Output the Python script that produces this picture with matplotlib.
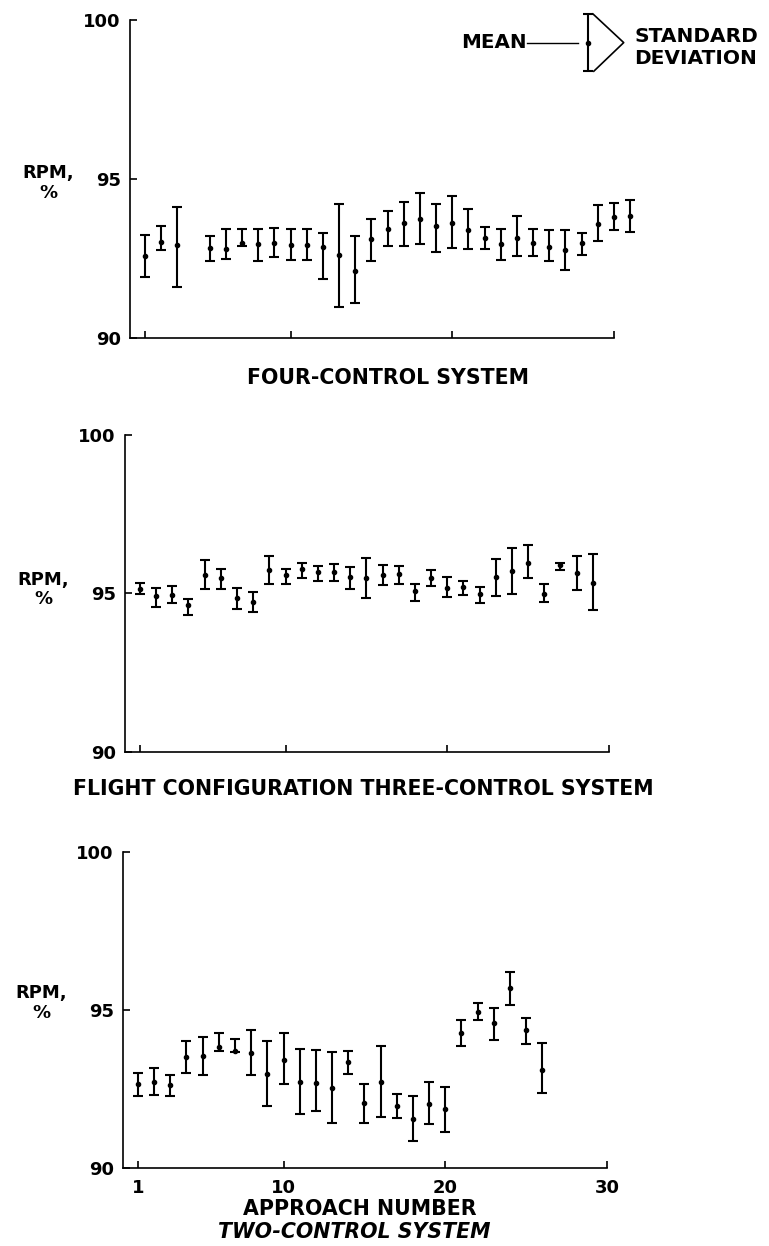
import matplotlib.pyplot as plt

plt.rcParams['font.family'] = ['DejaVu Sans']
plt.rcParams['font.weight'] = 'bold'

# four-control system: approach number, mean RPM and the mean +/- 1 s.d. limits
four_x = [1, 2, 3, 5, 6, 7, 8, 9, 10, 11, 12, 13, 14, 15, 16, 17, 18, 19, 20,
          21, 22, 23, 24, 25, 26, 27, 28, 29, 30, 31]
four_mean = [92.59, 93.01, 92.94, 92.83, 92.82, 92.99, 92.95, 92.98, 92.94, 92.94,
             92.88, 92.62, 92.13, 93.12, 93.43, 93.61, 93.75, 93.53, 93.63, 93.41,
             93.16, 92.95, 93.16, 92.98, 92.88, 92.78, 92.98, 93.59, 93.80, 93.84]
four_hi = [93.24, 93.54, 94.14, 93.22, 93.43, 93.43, 93.43, 93.45, 93.43, 93.43,
           93.31, 94.23, 93.21, 93.75, 93.99, 94.29, 94.55, 94.21, 94.48, 94.06,
           93.51, 93.43, 93.83, 93.42, 93.41, 93.39, 93.32, 94.18, 94.24, 94.35]
four_lo = [91.92, 92.78, 91.61, 92.42, 92.49, 92.90, 92.44, 92.55, 92.47, 92.47,
           91.86, 90.98, 91.10, 92.43, 92.89, 92.91, 92.97, 92.72, 92.84, 92.82,
           92.82, 92.47, 92.57, 92.57, 92.42, 92.15, 92.62, 93.05, 93.40, 93.35]

# flight configuration three-control system
three_x = [1, 2, 3, 4, 5, 6, 7, 8, 9, 10, 11, 12, 13, 14, 15, 16, 17, 18, 19, 20,
           21, 22, 23, 24, 25, 26, 27, 28, 29]
three_mean = [95.15, 94.91, 94.96, 94.63, 95.59, 95.48, 94.86, 94.73, 95.74, 95.57,
              95.77, 95.66, 95.66, 95.52, 95.50, 95.57, 95.60, 95.08, 95.50, 95.18,
              95.19, 94.98, 95.52, 95.72, 95.97, 94.98, 95.88, 95.63, 95.32]
three_hi = [95.34, 95.18, 95.23, 94.82, 96.04, 95.78, 95.17, 95.03, 96.18, 95.78,
            95.96, 95.87, 95.92, 95.82, 96.12, 95.88, 95.87, 95.31, 95.74, 95.52,
            95.40, 95.20, 96.09, 96.42, 96.52, 95.30, 95.96, 96.18, 96.23]
three_lo = [94.99, 94.57, 94.68, 94.31, 95.15, 95.15, 94.50, 94.42, 95.30, 95.29,
            95.50, 95.38, 95.38, 95.15, 94.86, 95.26, 95.31, 94.77, 95.23, 94.88,
            94.94, 94.71, 94.93, 94.98, 95.49, 94.73, 95.73, 95.11, 94.46]

# two-control system
two_x = [1, 2, 3, 4, 5, 6, 7, 8, 9, 10, 11, 12, 13, 14, 15, 16, 17, 18, 19, 20,
         21, 22, 23, 24, 25, 26]
two_mean = [92.66, 92.73, 92.64, 93.51, 93.56, 93.82, 93.72, 93.63, 92.98, 93.43,
            92.72, 92.71, 92.55, 93.36, 92.06, 92.74, 91.97, 91.55, 92.04, 91.87,
            94.26, 94.95, 94.58, 95.68, 94.37, 93.12]
two_hi = [93.00, 93.18, 92.95, 94.03, 94.15, 94.28, 94.07, 94.36, 94.01, 94.26,
          93.76, 93.73, 93.66, 93.69, 92.66, 93.87, 92.36, 92.28, 92.72, 92.58,
          94.67, 95.21, 95.07, 96.20, 94.74, 93.97]
two_lo = [92.29, 92.32, 92.28, 93.02, 92.95, 93.69, 93.67, 92.95, 91.98, 92.67,
          91.71, 91.80, 91.44, 92.99, 91.44, 91.63, 91.58, 90.87, 91.39, 91.16,
          93.85, 94.69, 94.06, 95.16, 93.92, 92.37]

x_ticks = [1, 10, 20, 30]
y_ticks = [90, 95, 100]

# key drawn in the top panel
key_x = 28.4
key_mean = 99.29
key_sd = 0.9

W, H = 769, 1246
fig = plt.figure(figsize=(W / 100, H / 100), dpi=100)


def add_panel(left, top, right, bottom):
    return fig.add_axes([left / W, 1 - bottom / H, (right - left) / W, (bottom - top) / H])


def style(ax, show_xlabels, label_y):
    ax.set_xlim(0.1, 30)
    ax.set_ylim(90, 100)
    for side in ('top', 'right'):
        ax.spines[side].set_visible(False)
    for side in ('left', 'bottom'):
        ax.spines[side].set_linewidth(1.2)
    ax.set_xticks(x_ticks)
    ax.set_yticks(y_ticks)
    ax.tick_params(direction='in', length=5, width=1.2, labelsize=13)
    ax.tick_params(axis='y', pad=7)
    ax.tick_params(axis='x', pad=8)
    if not show_xlabels:
        ax.set_xticklabels([])
    ax.set_ylabel('RPM,\n%', rotation=0, fontsize=13, fontweight='bold',
                  ha='center', va='center', linespacing=1.1)
    ax.yaxis.set_label_coords(-0.17, label_y)


def draw(ax, x, mean, hi, lo):
    err = [[m - l for m, l in zip(mean, lo)], [h - m for m, h in zip(mean, hi)]]
    eb = ax.errorbar(x, mean, yerr=err, fmt='o', ms=3, color='black',
                     elinewidth=1.5, capsize=3.5, capthick=1.5)
    for art in eb.get_children():
        art.set_clip_on(False)


ax1 = add_panel(130.4, 20, 614, 338.3)
ax2 = add_panel(125.4, 435, 609, 751.7)
ax3 = add_panel(123.4, 851.7, 607, 1168.3)

style(ax1, False, 0.488)
style(ax2, False, 0.513)
style(ax3, True, 0.522)

draw(ax1, four_x, four_mean, four_hi, four_lo)
draw(ax2, three_x, three_mean, three_hi, three_lo)
draw(ax3, two_x, two_mean, two_hi, two_lo)

# mean / standard deviation key
eb = ax1.errorbar([key_x], [key_mean], yerr=[key_sd], fmt='o', ms=3, color='black',
                  elinewidth=1.5, capsize=3.5, capthick=1.5)
for art in eb.get_children():
    art.set_clip_on(False)
ax1.plot([key_x - 3.75, key_x - 0.6], [key_mean, key_mean], color='black', lw=1,
         clip_on=False)
ax1.text(key_x - 3.8, key_mean, 'MEAN', ha='right', va='center', fontsize=14.3,
         fontweight='bold')
ax1.plot([key_x + 0.3, key_x + 2.2, key_x + 0.35],
         [key_mean + key_sd, key_mean, key_mean - key_sd], color='black', lw=1.2,
         clip_on=False)
ax1.text(key_x + 2.85, key_mean - 0.15, 'STANDARD\nDEVIATION', ha='left', va='center',
         fontsize=14.5, fontweight='bold', linespacing=1.2)

# panel captions
fig.text(388 / W, 1 - 378 / H, 'FOUR-CONTROL SYSTEM', ha='center', va='center',
         fontsize=14.8, fontweight='bold')
fig.text(363 / W, 1 - 789 / H, 'FLIGHT CONFIGURATION THREE-CONTROL SYSTEM',
         ha='center', va='center', fontsize=14.8, fontweight='bold')
fig.text(360 / W, 1 - 1209 / H, 'APPROACH NUMBER', ha='center', va='center',
         fontsize=14.8, fontweight='bold')
fig.text(354 / W, 1 - 1232 / H, 'TWO-CONTROL SYSTEM', ha='center', va='center',
         fontsize=14.8, fontweight='bold', style='italic')

fig.savefig('out.png', dpi=100)
